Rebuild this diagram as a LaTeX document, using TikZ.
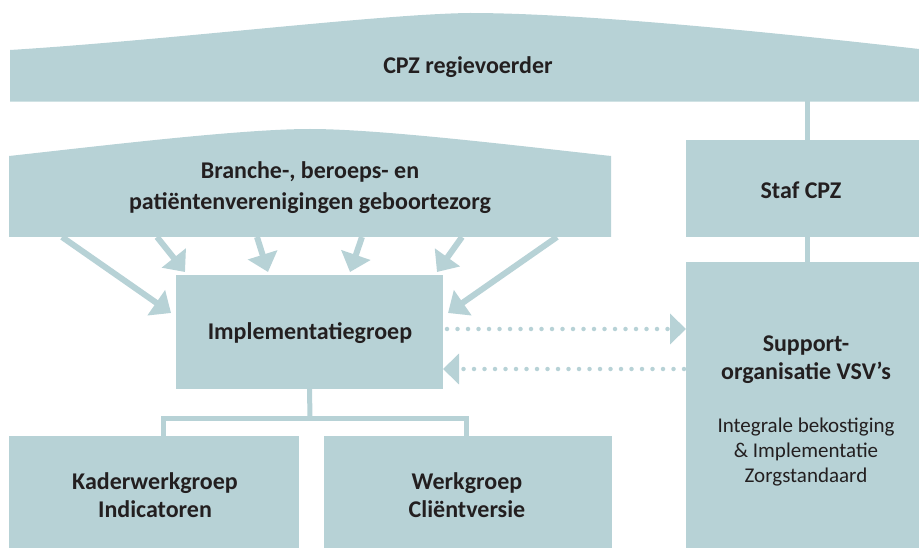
\documentclass[tikz,border=0pt]{standalone}
\usepackage{fontspec}
\setmainfont{Carlito}
\usetikzlibrary{arrows.meta}
\definecolor{bx}{RGB}{183,210,214}
\definecolor{tx}{RGB}{35,31,32}
\begin{document}
\begin{tikzpicture}[x=1pt,y=-1pt,
  box/.style={fill=bx, inner sep=0pt, text=tx, align=center},
  lbl/.style={inner sep=0pt, text=tx, align=center, font=\bfseries\fontsize{24}{28}\selectfont},
  small/.style={inner sep=0pt, text=tx, align=center, font=\fontsize{21}{25}\selectfont},
  link/.style={draw=bx, line width=5pt},
  bigarrow/.style={draw=bx, line width=6pt, -{Triangle[length=18pt,width=30pt]}},
  dotarrow/.style={draw=bx, line width=4.5pt, line cap=round, dash pattern=on 0pt off 10.5pt, -{Triangle[length=16pt,width=30pt,line cap=butt]}}
]
\useasboundingbox (0,0) rectangle (919,548);

% connector coordinates
\coordinate (bb) at (807,100);
\coordinate (sft) at (807,141);
\coordinate (sfb) at (807,236);
\coordinate (supt) at (807,263);
\coordinate (fork) at (310,418);
\coordinate (kdrtop) at (163,437);
\coordinate (wrktop) at (466,437);

\draw[link] (bb) -- (sft);
\draw[link] (sfb) -- (supt);

% banner
\fill[bx] (10,101.7) -- (10,50) .. controls (170,40) and (380,14) .. (470,13)
  .. controls (580,13) and (770,32) .. (919,49) -- (919,101.7) -- cycle;
\node[lbl] (cpz) at (468,67) {CPZ regievoerder};

% branche
\fill[bx] (9,237) -- (9,156) .. controls (100,146) and (240,129) .. (310,129)
  .. controls (380,129) and (520,146) .. (611,156) -- (611,237) -- cycle;
\node[lbl, font=\bfseries\fontsize{24}{31}\selectfont] (branche) at (310,188) {Branche-, beroeps- en\\patiëntenverenigingen geboortezorg};

% boxes
\node[box, minimum width=233pt, minimum height=97pt] (staf) at (802.5,188.5) {};
\node[lbl] (staftxt) at (801,190) {Staf CPZ};
\node[box, minimum width=233pt, minimum height=286pt] (support) at (802.5,405) {};
\node[lbl] (suptxt) at (806,360) {Support-\\organisatie VSV’s};
\node[small] (supsub) at (806,452) {Integrale bekostiging\\\& Implementatie\\Zorgstandaard};

\node[box, minimum width=267pt, minimum height=114pt] (impl) at (309.5,332) {};
\node[lbl] (impltxt) at (310,333) {Implementatiegroep};

\node[box, minimum width=290pt, minimum height=112pt] (kader) at (154,492) {};
\node[lbl] (kadertxt) at (155,495) {Kaderwerkgroep\\Indicatoren};
\node[box, minimum width=288pt, minimum height=112pt] (werk) at (468,492) {};
\node[lbl] (werktxt) at (467,495) {Werkgroep\\Cliëntversie};

% tree connectors
\draw[link] (impl.south) -- (fork);
\draw[link] (kdrtop) |- (fork) -| (wrktop);

% big arrows
\coordinate (s1) at (62,237);  \coordinate (e1) at (171,313);
\coordinate (s2) at (157,237); \coordinate (e2) at (185,272);
\coordinate (s3) at (257,237); \coordinate (e3) at (268,272);
\coordinate (s4) at (362,237); \coordinate (e4) at (350,272);
\coordinate (s5) at (462,237); \coordinate (e5) at (437,272);
\coordinate (s6) at (557,237); \coordinate (e6) at (448,313);
\foreach \i in {1,...,6} {\draw[bigarrow] (s\i) -- (e\i);}

% dotted arrows
\coordinate (d1s) at (447,329); \coordinate (d1e) at (686,329);
\coordinate (d2s) at (684,369); \coordinate (d2e) at (443,369);
\draw[dotarrow] (d1s) -- (d1e);
\draw[dotarrow] (d2s) -- (d2e);
\end{tikzpicture}
\end{document}
